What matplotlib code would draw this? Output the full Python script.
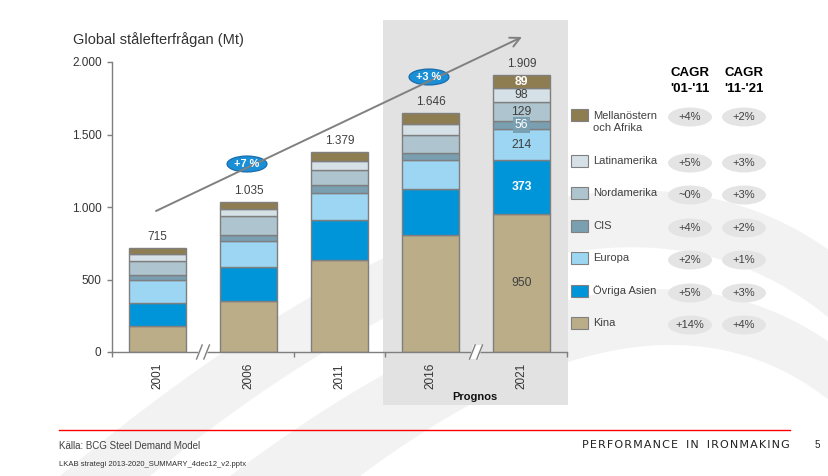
import matplotlib
matplotlib.use("Agg")
import matplotlib.pyplot as plt
import numpy as np
from matplotlib.patches import Rectangle, Ellipse, Polygon

plt.rcParams["font.family"] = ["Liberation Sans", "DejaVu Sans"]

# Data (Mt)
years = ["2001", "2006", "2011", "2016", "2021"]
kina = [180, 355, 634, 805, 950]
ovriga_asien = [160, 228, 276, 317, 373]
europa = [160, 185, 187, 200, 214]
cis = [28, 40, 55, 48, 56]
nordamerika = [103, 128, 103, 124, 129]
latinamerika = [42, 48, 62, 80, 98]
mellanostern = [42, 51, 62, 72, 89]
total_labels = ["715", "1.035", "1.379", "1.646", "1.909"]

series_names = ["Kina", "Övriga Asien", "Europa", "CIS", "Nordamerika",
                "Latinamerika", "Mellanöstern\noch Afrika"]
series_vals = [kina, ovriga_asien, europa, cis, nordamerika, latinamerika, mellanostern]
series_colors = ["#BBAD88", "#0095D9", "#9DD6F2", "#7A9FB1", "#AEC5CF", "#D5E1E6", "#8F7D52"]

# CAGR per region, legend order top to bottom (Mellanöstern ... Kina)
cagr_01_11 = ["+4%", "+5%", "~0%", "+4%", "+2%", "+5%", "+14%"]
cagr_11_21 = ["+2%", "+3%", "+3%", "+2%", "+1%", "+3%", "+4%"]
growth_labels = ["+7 %", "+3 %"]

W, H = 829, 476
fig = plt.figure(figsize=(W / 100, H / 100), dpi=100)
fig.patch.set_facecolor("white")

# background layer in pixel coordinates
bg = fig.add_axes([0, 0, 1, 1], zorder=0)
bg.set_xlim(0, W)
bg.set_ylim(H, 0)
bg.axis("off")


def bezier(p0, p1, p2, n=60):
    t = np.linspace(0, 1, n)[:, None]
    return (1 - t) ** 2 * np.array(p0) + 2 * t * (1 - t) * np.array(p1) + t ** 2 * np.array(p2)


# faint swoosh watermark
bands = [
    (((60, 476), (560, 60), (829, 250)), ((150, 476), (590, 120), (829, 318))),
    (((230, 476), (610, 190), (829, 342)), ((360, 476), (650, 260), (829, 400))),
]
for upper, lower in bands:
    pts = np.vstack([bezier(*upper), bezier(*lower)[::-1]])
    bg.add_patch(Polygon(pts, closed=True, facecolor="#F2F2F2", edgecolor="none"))

# forecast shading
bg.add_patch(Rectangle((383, 20), 185, 385, facecolor="#E2E2E2", edgecolor="none"))

# footer
bg.plot([59, 790], [430, 430], color="#FF0000", lw=1)
bg.text(59, 446, "Källa: BCG Steel Demand Model", fontsize=7, color="#404040", va="center")
bg.text(59, 465, "LKAB strategi 2013-2020_SUMMARY_4dec12_v2.pptx", fontsize=5.5,
        color="#303030", va="center")
footer = "PERFORMANCE IN IRONMAKING"
footer = "\u200a".join(footer).replace("\u200a \u200a", "\u2009 \u2009")
bg.text(790, 445, footer, fontsize=8.0, color="#222222",
        ha="right", va="center", family="DejaVu Sans")
bg.text(817, 445, "5", fontsize=7, color="#222222", ha="center", va="center")

# main chart
ax = fig.add_axes([112 / W, (H - 352) / H, 455 / W, 290 / H], zorder=1)
ax.set_facecolor("none")
x = np.arange(len(years))
bottom = np.zeros(len(years))
for vals, col in zip(series_vals, series_colors):
    ax.bar(x, vals, width=0.63, bottom=bottom, color=col, edgecolor="#7F7F7F",
           linewidth=1.0, zorder=2)
    bottom += np.array(vals)
totals = bottom

for xi, tot, lab in zip(x, totals, total_labels):
    ax.annotate(lab, (xi, tot), xytext=(0, 3.5), textcoords="offset points",
                ha="center", va="bottom", fontsize=8.5, color="#404040")

# labels inside the 2021 bar
inner_style = {"Kina": ("#404040", "normal"), "Övriga Asien": ("white", "bold"),
               "Europa": ("#404040", "normal"), "CIS": ("white", "normal"),
               "Nordamerika": ("#404040", "normal"), "Latinamerika": ("#404040", "normal"),
               "Mellanöstern\noch Afrika": ("white", "bold")}
cum = 0
for name, vals, col in zip(series_names, series_vals, series_colors):
    v = vals[-1]
    tc, fw = inner_style[name]
    kw = {}
    if name == "CIS":
        kw["bbox"] = dict(boxstyle="square,pad=0.15", facecolor=col, edgecolor="none")
    ax.text(x[-1], cum + v / 2, str(v), ha="center", va="center", fontsize=8.8,
            color=tc, fontweight=fw, zorder=3, **kw)
    cum += v

ax.set_xlim(-0.5, 4.5)
ax.set_ylim(0, 2000)
ax.set_yticks([0, 500, 1000, 1500, 2000])
ax.set_yticklabels(["0", "500", "1.000", "1.500", "2.000"])
ax.set_xticks(x)
ax.set_xticklabels(years, rotation=90)
ax.set_xticks([-0.5, 1.5, 2.5, 4.5], minor=True)
ax.tick_params(axis="x", which="major", length=0, pad=8, labelsize=8.5, labelcolor="#333333")
ax.tick_params(axis="x", which="minor", length=3.5, color="#7F7F7F", width=1)
ax.tick_params(axis="y", length=3.5, color="#7F7F7F", width=1, pad=4,
               labelsize=8.5, labelcolor="#333333")
for s in ["top", "right"]:
    ax.spines[s].set_visible(False)
for s in ["left", "bottom"]:
    ax.spines[s].set_color("#7F7F7F")
    ax.spines[s].set_linewidth(1)

# axis break marks "//"
for xb in [0.5, 3.5]:
    bx = ax.transData.transform((xb, 0))[0]
    px = ax.transAxes.inverted().transform((bx, 0))[0]
    dx = 4 / 455
    dy = 7 / 290
    ax.add_patch(Polygon([(px - dx * 1.2 - 0.004, -dy), (px - dx * 0.2 - 0.004, dy),
                          (px + dx * 1.2 + 0.004, dy), (px + dx * 0.2 + 0.004, -dy)],
                         closed=True, transform=ax.transAxes, facecolor="white",
                         edgecolor="none", clip_on=False, zorder=4))
    for off in [-0.008, 0.008]:
        ax.plot([px + off - dx * 0.7, px + off + dx * 0.7], [-dy, dy], color="#7F7F7F",
                lw=1, transform=ax.transAxes, clip_on=False, zorder=5)

# overlay: title, arrow, legend, CAGR
ov = fig.add_axes([0, 0, 1, 1], zorder=2)
ov.set_xlim(0, W)
ov.set_ylim(H, 0)
ov.axis("off")
ov.patch.set_alpha(0)

ov.text(73, 40, "Global stålefterfrågan (Mt)", fontsize=10.5, color="#333333", va="center")
ov.text(475, 397, "Prognos", fontsize=8, fontweight="bold", color="#111111",
        ha="center", va="center")

ov.annotate("", xy=(522, 37), xytext=(156, 211),
            arrowprops=dict(arrowstyle="->,head_length=0.7,head_width=0.35",
                            color="#808080", lw=1.4, shrinkA=0, shrinkB=0))
for (cx, cy), lab in zip([(247, 164), (429, 77)], growth_labels):
    ov.add_patch(Ellipse((cx, cy), 40, 16, facecolor="#1B8FD6", edgecolor="#1567A8", lw=0.8))
    ov.text(cx, cy, lab, ha="center", va="center", fontsize=7.8, color="white",
            fontweight="bold")

# legend and CAGR columns
ov.text(690, 73, "CAGR", ha="center", va="center", fontsize=9.5, fontweight="bold", color="black")
ov.text(690, 89, "'01-'11", ha="center", va="center", fontsize=9.5, fontweight="bold", color="black")
ov.text(744, 73, "CAGR", ha="center", va="center", fontsize=9.5, fontweight="bold", color="black")
ov.text(744, 89, "'11-'21", ha="center", va="center", fontsize=9.5, fontweight="bold", color="black")

legend_y = [115, 161, 193, 226, 258, 291, 323]
for i, (name, col) in enumerate(zip(series_names[::-1], series_colors[::-1])):
    ly = legend_y[i]
    ov.add_patch(Rectangle((571, ly - 6), 17, 12, facecolor=col, edgecolor="#808080", lw=0.8))
    if "\n" in name:
        ov.text(593, ly + 7, name, fontsize=8, color="#404040", va="center", linespacing=1.15)
    else:
        ov.text(593, ly, name, fontsize=8, color="#404040", va="center")
    for bx, lab in zip([690, 744], [cagr_01_11[i], cagr_11_21[i]]):
        ov.add_patch(Ellipse((bx, ly + 2), 44, 19, facecolor="#E4E4E4", edgecolor="none"))
        ov.text(bx, ly + 2, lab, ha="center", va="center", fontsize=8, color="#404040")

fig.savefig("out.png", dpi=100)
